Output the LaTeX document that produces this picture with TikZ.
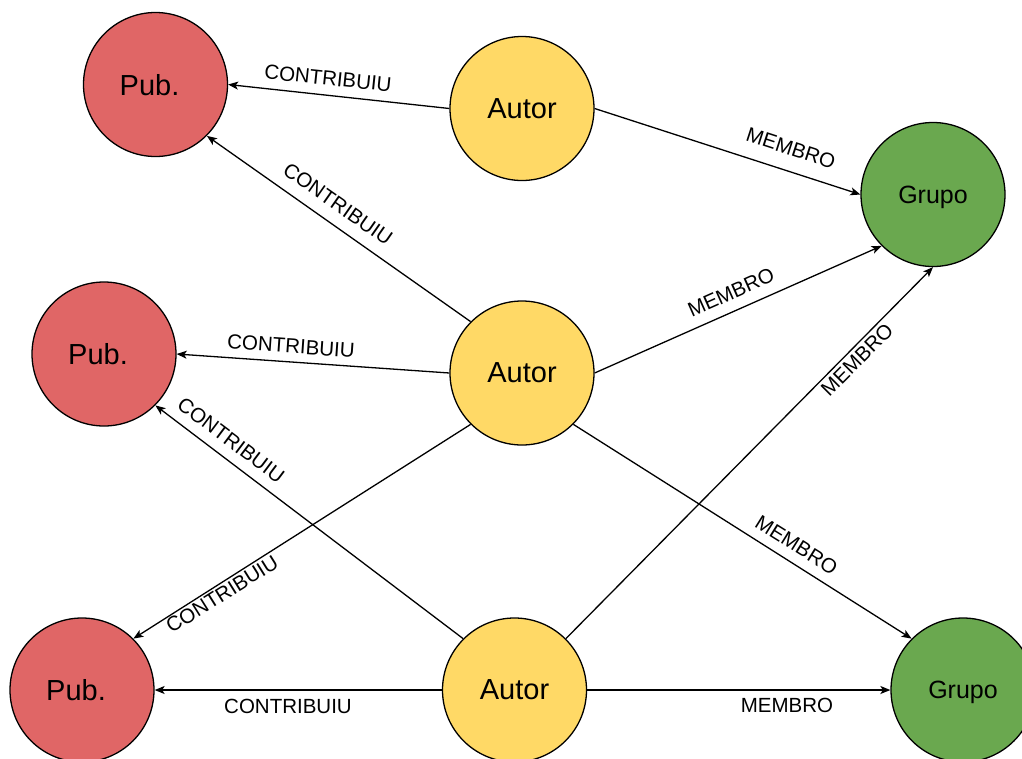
\documentclass[tikz,border=0pt]{standalone}
\usepackage{fontspec}
\setmainfont{Liberation Sans}
\usetikzlibrary{arrows.meta}
\definecolor{pubred}{HTML}{E06666}
\definecolor{autoryel}{HTML}{FFD966}
\definecolor{grupogrn}{HTML}{6AA84F}
\begin{document}
\begin{tikzpicture}[x=1pt,y=-1pt,
  ent/.style={circle, draw=black, line width=1.3pt, minimum size=144pt, inner sep=0pt, text depth=0pt},
  pub/.style={ent, fill=pubred, font=\fontsize{29}{34}\selectfont},
  autor/.style={ent, fill=autoryel, font=\fontsize{29}{34}\selectfont},
  grupo/.style={ent, fill=grupogrn, font=\fontsize{25}{30}\selectfont},
  rel/.style={draw=black, line width=1.3pt, -{Stealth[length=10pt,width=8pt,inset=2.5pt]}},
  lbl/.style={font=\fontsize{20.5}{24}\selectfont, inner sep=0pt, text depth=0pt}]
\useasboundingbox (0,0) rectangle (1022,758);
\clip (0,0) rectangle (1022,758);
\fill[white] (0,0) rectangle (1022,758);
% entities
\node[pub] (p1) at (155.5,84.5) {Pub.\hspace*{12pt}};
\node[autor] (a1) at (522,108.5) {Autor};
\node[grupo] (g1) at (933,194.5) {Grupo};
\node[pub] (p2) at (104,354) {Pub.\hspace*{12pt}};
\node[autor] (a2) at (522,373) {Autor};
\node[pub] (p3) at (82,690) {Pub.\hspace*{12pt}};
\node[autor] (a3) at (514.5,690) {Autor};
\node[grupo] (g2) at (963,690) {Grupo};
% relations
\draw[rel] (a1.west) -- (p1.east);
\draw[rel] (a2.135) -- (p1.-45);
\draw[rel] (a2.west) -- (p2.east);
\draw[rel] (a3.135) -- (p2.-45);
\draw[rel] (a2.-135) -- (p3.45);
\draw[rel] (a3.west) -- (p3.east);
\draw[rel] (a1.east) -- (g1.west);
\draw[rel] (a2.east) -- (g1.-135);
\draw[rel] (a3.45) -- (g1.south);
\draw[rel] (a2.-45) -- (g2.135);
\draw[rel] (a3.east) -- (g2.west);
% labels
\node[lbl, rotate=-6] (l1) at (328,78) {CONTRIBUIU};
\node[lbl, rotate=-35] (l2) at (338,204) {CONTRIBUIU};
\node[lbl, rotate=-4] (l3) at (291,346) {CONTRIBUIU};
\node[lbl, rotate=-37] (l4) at (231,440) {CONTRIBUIU};
\node[lbl, rotate=32] (l5) at (222,594) {CONTRIBUIU};
\node[lbl] (l6) at (288,706) {CONTRIBUIU};
\node[lbl, rotate=-18] (m1) at (791,148) {MEMBRO};
\node[lbl, rotate=24] (m2) at (731,292.5) {MEMBRO};
\node[lbl, rotate=45] (m3) at (857,359.5) {MEMBRO};
\node[lbl, rotate=-32] (m4) at (796.5,545) {MEMBRO};
\node[lbl] (m5) at (787,705) {MEMBRO};
\end{tikzpicture}
\end{document}
